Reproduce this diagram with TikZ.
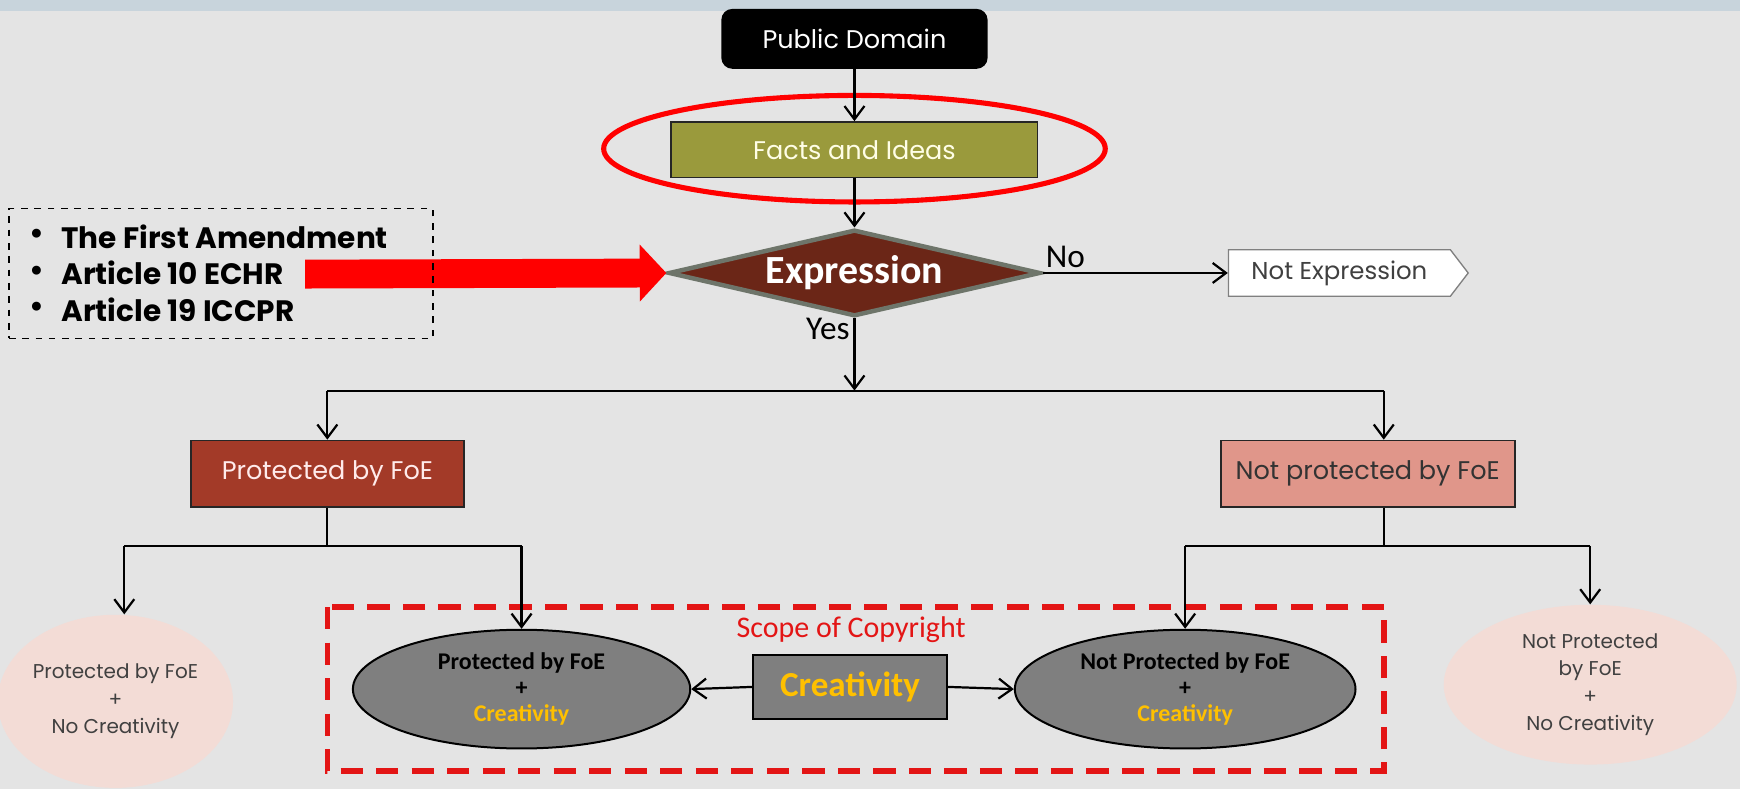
\documentclass[tikz,border=0pt]{standalone}
\usepackage{fontspec}
\setmainfont{Poppins}
\newfontfamily\carl{Carlito}
\usetikzlibrary{arrows.meta,shapes.geometric,shapes.symbols,calc}
\definecolor{bgc}{HTML}{E4E4E4}
\definecolor{bandc}{HTML}{C8D4DC}
\definecolor{olive}{HTML}{9A9A3C}
\definecolor{exfill}{HTML}{6B2617}
\definecolor{exdraw}{HTML}{6E756A}
\definecolor{protc}{HTML}{A33A28}
\definecolor{nprotc}{HTML}{E0968A}
\definecolor{pinkc}{HTML}{F3DCD6}
\definecolor{greyc}{HTML}{7F7F7F}
\definecolor{crey}{HTML}{FFC000}
\definecolor{scopered}{HTML}{E31515}
\definecolor{txtgray}{HTML}{404040}
\begin{document}
\begin{tikzpicture}[x=0.5pt,y=-0.5pt,
  line/.style={draw=black,line width=1pt},
  conn/.style={line,-{Straight Barb[length=6pt,width=9pt,line width=1pt]}},
  boxbase/.style={rectangle,inner sep=0pt,font=\fontsize{11.5}{13}\selectfont},
  pinkell/.style={ellipse,fill=pinkc,inner sep=0pt,text=txtgray,align=center,font=\fontsize{9}{12.3}\selectfont},
  greyell/.style={ellipse,fill=greyc,draw=black,line width=0.9pt,inner sep=0pt,align=center,font=\carl\bfseries\fontsize{10.8}{11.8}\selectfont},
  bul/.style={anchor=west,inner sep=0pt,font=\bfseries\fontsize{13.3}{15}\selectfont}
]
\useasboundingbox (0,0) rectangle (1568,711);
\fill[bgc] (0,0) rectangle (1568,711);
\fill[bandc] (0,0) rectangle (1568,10);

% top chain
\node[boxbase,fill=black,rounded corners=5pt,minimum width=120pt,minimum height=27pt,text=white] (pd) at (770,35) {Public Domain};
\node[boxbase,fill=olive,draw=black!85,line width=0.8pt,minimum width=165pt,minimum height=25pt,text=yellow!10] (facts) at (770,135) {Facts and Ideas};
\node[ellipse,draw=red,line width=2.3pt,minimum width=226pt,minimum height=48pt] (redov) at (770,134) {};
\node[diamond,aspect=4.3,inner sep=0pt,minimum width=167.5pt,minimum height=39pt,fill=exfill,draw=exdraw,line width=2pt,text=white,font=\carl\bfseries\fontsize{18}{20}\selectfont] (expr) at (770,246) {Expression};
\node[signal,signal to=east,signal pointer angle=105,fill=white,draw=gray,line width=0.6pt,inner sep=0pt,minimum width=108pt,minimum height=21pt,text=txtgray,font=\fontsize{11}{13}\selectfont] (notexp) at (1207,246) {Not Expression\hspace{6pt}};

\draw[conn] (pd) -- (facts);
\draw[conn] (facts) -- (expr);
\draw[conn] (expr.east) -- (notexp.west);
\node[anchor=south west,inner sep=0pt,font=\carl\fontsize{15}{17}\selectfont] (no) at (942,242) {No};
\node[anchor=north east,inner sep=0pt,font=\carl\fontsize{15}{17}\selectfont] (yes) at (766,286) {Yes};

% red arrow and bullet box
\coordinate (rstart) at (275,247);
\draw[red,line width=13pt,-{Triangle[length=12pt,width=25pt]}] (rstart) -- (expr.west);
\node[draw=black,dashed,line width=0.7pt,minimum width=191pt,minimum height=58.5pt,inner sep=0pt] (laws) at (199,246.5) {};
\node[bul] (d1) at (26,213) {\textbullet};
\node[bul] (d2) at (26,246) {\textbullet};
\node[bul] (d3) at (26,279) {\textbullet};
\node[bul] (t1) at (55,213) {The First Amendment};
\node[bul] (t2) at (55,246) {Article 10 ECHR};
\node[bul] (t3) at (55,279) {Article 19 ICCPR};

% split
\coordinate (split) at (770,352);
\coordinate (splitL) at (295,352);
\coordinate (splitR) at (1247,352);
\draw[conn] (expr.south) -- (split);
\draw[line] (splitL) -- (splitR);

\node[boxbase,fill=protc,draw=black!85,line width=0.8pt,minimum width=123pt,minimum height=30pt,text=white!92!red] (prot) at (295,427) {Protected by FoE};
\node[boxbase,fill=nprotc,draw=black!85,line width=0.8pt,minimum width=132.5pt,minimum height=30pt,text=black!80] (nprot) at (1232.5,427) {Not protected by FoE};
\draw[conn] (splitL) -- (prot.north);
\draw[conn] (splitR) -- (splitR |- nprot.north);

% outcomes
\node[pinkell,minimum width=106pt,minimum height=78pt] (pinkL) at (104,632) {Protected by FoE\\+\\No Creativity};
\node[pinkell,minimum width=132pt,minimum height=72pt] (pinkR) at (1433,617) {Not Protected\\by FoE\\+\\No Creativity};

\draw[scopered,line width=2.5pt,dash pattern=on 10pt off 6pt] (295,547) rectangle (1247,695);
\node[text=scopered,inner sep=0pt,font=\carl\fontsize{13.5}{15}\selectfont] (scope) at (767,567) {Scope of Copyright};

\node[greyell,minimum width=152pt,minimum height=53.5pt] (greyL) at (470,621) {Protected by FoE\\+\\\textcolor{crey}{Creativity}};
\node[greyell,minimum width=153.5pt,minimum height=53.5pt] (greyR) at (1068,621) {Not Protected by FoE\\+\\\textcolor{crey}{Creativity}};
\node[rectangle,fill=greyc,draw=black,line width=0.9pt,minimum width=87pt,minimum height=29pt,inner sep=0pt,text=crey,font=\carl\bfseries\fontsize{15.8}{17}\selectfont] (crbox) at (766,619) {Creativity};
\draw[conn] (crbox.west) -- (greyL.east);
\draw[conn] (crbox.east) -- (greyR.west);

\coordinate (pb) at (295,492);
\coordinate (pbl) at (112,492);
\coordinate (pbr) at (470,492);
\draw[line] (prot.south) -- (pb);
\draw[line] (pbl) -- (pbr);
\draw[conn] (pbl) -- (pbl |- pinkL.north);
\draw[conn] (pbr) -- (greyL.north);

\coordinate (nb) at (1247,492);
\coordinate (nbl) at (1068,492);
\coordinate (nbr) at (1433,492);
\draw[line] (splitR |- nprot.south) -- (nb);
\draw[line] (nbl) -- (nbr);
\draw[conn] (nbl) -- (greyR.north);
\draw[conn] (nbr) -- (pinkR.north);
\end{tikzpicture}
\end{document}
